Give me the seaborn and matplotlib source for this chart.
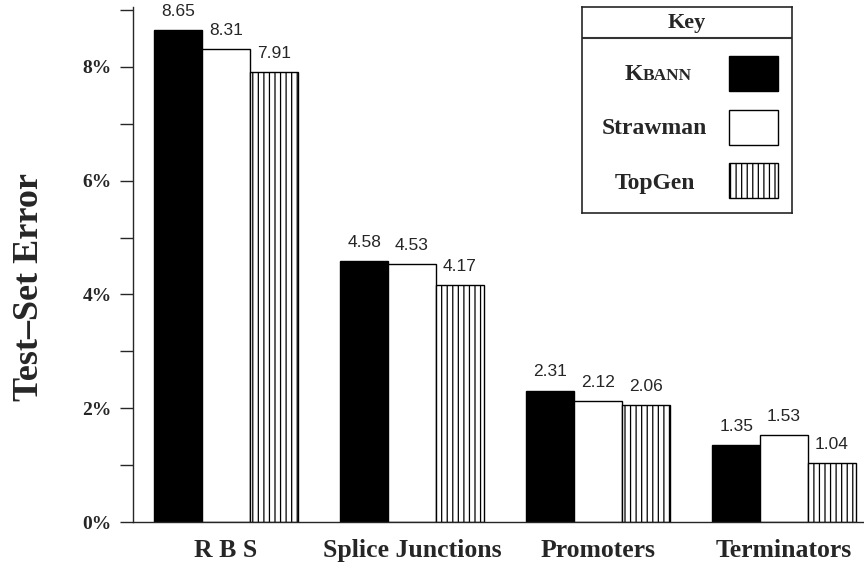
import pandas as pd
import numpy as np
import seaborn as sns
import matplotlib.pyplot as plt
from matplotlib.patches import Rectangle

# values
datasets = ['R B S', 'Splice Junctions', 'Promoters', 'Terminators']
methods = ['KBANN', 'Strawman', 'TopGen']
kbann = [8.65, 4.58, 2.31, 1.35]
strawman = [8.31, 4.53, 2.12, 1.53]
topgen = [7.91, 4.17, 2.06, 1.04]
y_ticks = [0, 2, 4, 6, 8]
y_tick_labels = ['0%', '2%', '4%', '6%', '8%']

fills = ['black', 'white', 'white']
hatches = ['', '', '|||']

sns.set_style('ticks')
plt.rcParams['font.family'] = ['Liberation Serif', 'DejaVu Serif']
plt.rcParams['hatch.linewidth'] = 0.9
plt.rcParams['hatch.color'] = 'black'

df = pd.DataFrame({
    'dataset': datasets * 3,
    'method': np.repeat(methods, len(datasets)),
    'error': kbann + strawman + topgen,
})

fig = plt.figure(figsize=(8.64, 5.65), dpi=100)
ax = fig.add_axes([0.154, 0.076, 0.846, 0.9115])

sns.barplot(data=df, x='dataset', y='error', hue='method', palette=fills,
            saturation=1, edgecolor='black', linewidth=1, width=0.77,
            legend=False, errorbar=None, ax=ax)

for cont, h, vals in zip(ax.containers, hatches, [kbann, strawman, topgen]):
    for bar in cont:
        bar.set_hatch(h)
    ax.bar_label(cont, labels=[f'{v:.2f}' for v in vals], padding=8,
                 fontsize=12.5, family='Liberation Sans')

ax.set_xlim(-0.5, 3.43)
ax.set_ylim(0, 9.05)
ax.set_yticks(y_ticks)
ax.set_yticklabels(y_tick_labels, fontsize=14, fontweight='bold')
ax.set_yticks([1, 3, 5, 7, 9], minor=True)
ax.tick_params(axis='y', which='both', direction='out', length=9.4, width=1, pad=6)
ax.tick_params(axis='x', length=0, pad=12, labelsize=18.5)
for lab in ax.get_xticklabels():
    lab.set_fontweight('bold')
ax.set_xlabel('')
ax.set_ylabel('')
sns.despine(ax=ax)
ax.spines['left'].set_linewidth(1)
ax.spines['bottom'].set_linewidth(1)

fig.text(30 / 864, 1 - 287 / 565, 'Test\u2013Set Error', rotation=90,
         ha='center', va='center', fontsize=26, fontweight='bold')

# key box
lg = fig.add_axes([582 / 864, 1 - 213 / 565, 210 / 864, 206 / 565])
lg.set_xlim(0, 210)
lg.set_ylim(206, 0)
lg.set_xticks([])
lg.set_yticks([])
for s in lg.spines.values():
    s.set_linewidth(1.2)
lg.axhline(31, color='#333333', lw=1.5)
lg.text(105, 16, 'Key', ha='center', va='center', fontsize=16, fontweight='bold')

k = lg.text(61, 67, 'K', ha='right', va='center', fontsize=17, fontweight='bold')
lg.annotate('BANN', xy=(1, 0), xycoords=k, ha='left', va='bottom',
            fontsize=12.5, fontweight='bold')
lg.text(72, 122, 'Strawman', ha='center', va='center', fontsize=17, fontweight='bold')
lg.text(73, 176, 'TopGen', ha='center', va='center', fontsize=17, fontweight='bold')
for i, (fc, h) in enumerate(zip(fills, hatches)):
    lg.add_patch(Rectangle((147, 49 + i * 53.5), 49, 35, facecolor=fc,
                           edgecolor='black', hatch=h, lw=1))

fig.savefig('out.png', dpi=100)
